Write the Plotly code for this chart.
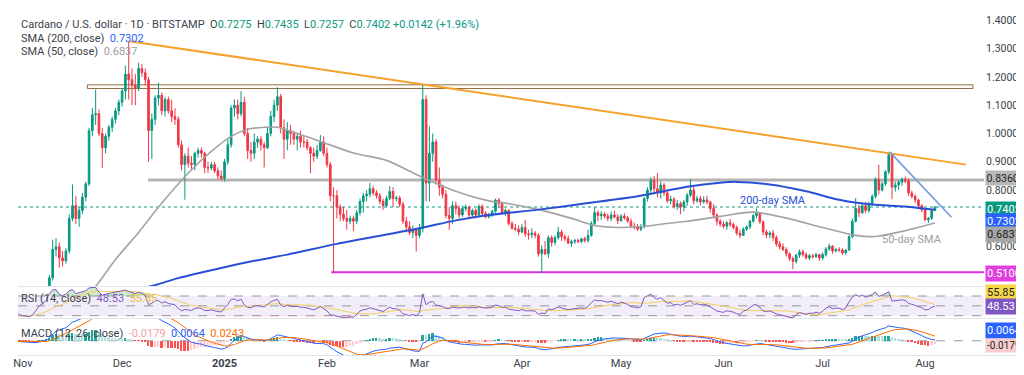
import numpy as np
import pandas as pd
import plotly.graph_objects as go

# ---------------- data (daily ADA/USD, Bitstamp) ----------------
start_date = "2024-10-01"

opens = [
    # Oct 2024
    0.380, 0.365, 0.345, 0.338, 0.352, 0.350, 0.356, 0.352, 0.348, 0.337, 0.338, 0.351, 0.356, 0.354, 0.372, 0.366,
    0.364, 0.357, 0.364, 0.358, 0.364, 0.355, 0.350, 0.340, 0.345, 0.332, 0.340, 0.350, 0.356, 0.366, 0.350,
    # Nov
    0.330, 0.322, 0.320, 0.312, 0.320, 0.336, 0.362, 0.378, 0.400, 0.490, 0.590, 0.600, 0.560, 0.550, 0.585,
    0.700, 0.745, 0.700, 0.728, 0.775, 0.822, 1.010, 1.066, 1.070, 1.000, 0.950, 0.990, 1.022, 1.050, 1.080,
    # Dec
    1.110, 1.150, 1.210, 1.190, 1.170, 1.160, 1.230, 1.215, 1.190, 1.010, 1.050, 1.125, 1.135, 1.080, 1.120,
    1.080, 1.060, 1.050, 0.960, 0.890, 0.920, 0.895, 0.890, 0.930, 0.940, 0.930, 0.880, 0.878, 0.890, 0.868, 0.850,
    # Jan 2025
    0.840, 0.900, 0.960, 1.090, 1.100, 1.070, 1.110, 1.000, 0.940, 0.930, 0.970, 0.980, 0.960, 0.950, 1.000,
    1.060, 1.100, 1.130, 1.020, 0.980, 1.010, 1.000, 0.980, 0.990, 0.970, 0.970, 0.950, 0.930, 0.920, 0.940, 0.970,
    # Feb
    0.930, 0.890, 0.780, 0.780, 0.740, 0.715, 0.700, 0.690, 0.700, 0.690, 0.720, 0.760, 0.780, 0.785,
    0.805, 0.790, 0.780, 0.760, 0.745, 0.770, 0.795, 0.770, 0.772, 0.750, 0.690, 0.670, 0.650, 0.660,
    # Mar
    0.640, 0.665, 1.120, 0.825, 0.930, 0.970, 0.835, 0.810, 0.785, 0.710, 0.700, 0.745, 0.735, 0.712, 0.735,
    0.740, 0.712, 0.728, 0.712, 0.742, 0.718, 0.705, 0.712, 0.725, 0.765, 0.752, 0.722, 0.728, 0.682, 0.665, 0.662,
    # Apr
    0.652, 0.668, 0.645, 0.642, 0.648, 0.640, 0.575, 0.590, 0.575, 0.632, 0.615, 0.632, 0.652, 0.635, 0.628,
    0.612, 0.618, 0.622, 0.618, 0.628, 0.622, 0.640, 0.682, 0.720, 0.710, 0.715, 0.708, 0.700, 0.712, 0.705,
    # May
    0.692, 0.708, 0.702, 0.690, 0.672, 0.670, 0.662, 0.670, 0.770, 0.800, 0.835, 0.805, 0.790, 0.818, 0.790,
    0.762, 0.768, 0.742, 0.752, 0.740, 0.758, 0.782, 0.800, 0.762, 0.770, 0.758, 0.765, 0.758, 0.735, 0.712, 0.690,
    # Jun
    0.680, 0.672, 0.685, 0.678, 0.668, 0.648, 0.640, 0.662, 0.670, 0.690, 0.710, 0.718, 0.688, 0.652, 0.642,
    0.648, 0.632, 0.610, 0.600, 0.590, 0.575, 0.558, 0.548, 0.570, 0.582, 0.572, 0.560, 0.568, 0.565, 0.572,
    # Jul
    0.560, 0.572, 0.592, 0.602, 0.585, 0.590, 0.588, 0.578, 0.588, 0.635, 0.690, 0.735, 0.720, 0.745, 0.728,
    0.752, 0.778, 0.838, 0.800, 0.822, 0.865, 0.925, 0.810, 0.818, 0.828, 0.838, 0.832, 0.790, 0.778, 0.765, 0.745,
    # Aug
    0.730, 0.695, 0.700, 0.7275,
]
highs = [
    0.383, 0.370, 0.350, 0.355, 0.356, 0.360, 0.366, 0.356, 0.352, 0.343, 0.354, 0.359, 0.358, 0.378, 0.380, 0.372,
    0.367, 0.368, 0.366, 0.368, 0.367, 0.358, 0.352, 0.350, 0.348, 0.342, 0.352, 0.358, 0.370, 0.368, 0.352,
    0.335, 0.328, 0.322, 0.325, 0.340, 0.368, 0.385, 0.405, 0.500, 0.625, 0.630, 0.615, 0.585, 0.595, 0.715,
    0.820, 0.780, 0.740, 0.790, 0.830, 1.020, 1.090, 1.155, 1.085, 1.020, 1.000, 1.030, 1.060, 1.090, 1.120,
    1.160, 1.240, 1.326, 1.230, 1.210, 1.250, 1.245, 1.230, 1.200, 1.070, 1.135, 1.180, 1.145, 1.130, 1.130,
    1.120, 1.090, 1.060, 0.975, 0.930, 0.950, 0.920, 0.935, 0.950, 0.950, 0.935, 0.900, 0.900, 0.900, 0.880, 0.870,
    0.910, 0.980, 1.100, 1.120, 1.120, 1.150, 1.130, 1.020, 0.970, 1.000, 0.990, 0.990, 0.970, 1.020, 1.080,
    1.120, 1.163, 1.140, 1.050, 1.040, 1.030, 1.010, 1.000, 1.010, 0.990, 0.980, 0.955, 0.950, 0.960, 0.995, 0.990,
    0.950, 0.900, 0.810, 0.800, 0.750, 0.740, 0.730, 0.710, 0.710, 0.730, 0.770, 0.790, 0.800, 0.825,
    0.815, 0.800, 0.790, 0.770, 0.780, 0.815, 0.810, 0.780, 0.780, 0.760, 0.705, 0.690, 0.675, 0.665,
    0.680, 1.172, 1.135, 1.025, 1.000, 0.980, 0.880, 0.820, 0.800, 0.740, 0.760, 0.760, 0.745, 0.745, 0.750,
    0.745, 0.735, 0.735, 0.750, 0.750, 0.725, 0.720, 0.730, 0.770, 0.772, 0.760, 0.735, 0.732, 0.690, 0.680, 0.675,
    0.680, 0.695, 0.660, 0.665, 0.655, 0.648, 0.605, 0.620, 0.640, 0.640, 0.640, 0.670, 0.660, 0.645, 0.640,
    0.625, 0.628, 0.628, 0.632, 0.635, 0.660, 0.690, 0.740, 0.728, 0.725, 0.722, 0.718, 0.725, 0.728, 0.715,
    0.715, 0.718, 0.708, 0.700, 0.685, 0.680, 0.680, 0.775, 0.810, 0.845, 0.850, 0.860, 0.830, 0.825, 0.795,
    0.780, 0.775, 0.765, 0.760, 0.765, 0.790, 0.838, 0.815, 0.780, 0.780, 0.778, 0.780, 0.762, 0.750, 0.718, 0.698,
    0.690, 0.690, 0.698, 0.685, 0.675, 0.660, 0.668, 0.675, 0.695, 0.715, 0.735, 0.722, 0.692, 0.660, 0.655,
    0.660, 0.640, 0.620, 0.612, 0.598, 0.580, 0.565, 0.575, 0.590, 0.590, 0.580, 0.575, 0.575, 0.578, 0.575,
    0.580, 0.598, 0.610, 0.605, 0.595, 0.598, 0.595, 0.592, 0.640, 0.700, 0.772, 0.748, 0.755, 0.758, 0.760,
    0.785, 0.845, 0.890, 0.830, 0.870, 0.935, 0.930, 0.830, 0.835, 0.845, 0.848, 0.842, 0.798, 0.785, 0.770, 0.750,
    0.735, 0.705, 0.730, 0.7435,
]
lows = [
    0.358, 0.340, 0.333, 0.336, 0.347, 0.348, 0.350, 0.344, 0.335, 0.330, 0.336, 0.349, 0.348, 0.352, 0.360, 0.360,
    0.352, 0.355, 0.355, 0.356, 0.350, 0.345, 0.334, 0.338, 0.322, 0.330, 0.338, 0.343, 0.352, 0.348, 0.326,
    0.318, 0.316, 0.305, 0.308, 0.318, 0.334, 0.358, 0.372, 0.398, 0.480, 0.565, 0.525, 0.530, 0.540, 0.575,
    0.690, 0.680, 0.670, 0.715, 0.760, 0.815, 0.990, 1.030, 0.990, 0.878, 0.930, 0.975, 1.005, 1.035, 1.065,
    1.095, 1.120, 1.120, 1.100, 1.100, 1.150, 1.200, 1.170, 0.900, 0.910, 1.030, 1.100, 1.065, 1.060, 1.070,
    1.040, 1.030, 0.950, 0.870, 0.766, 0.880, 0.870, 0.870, 0.915, 0.915, 0.860, 0.860, 0.870, 0.860, 0.838, 0.835,
    0.830, 0.890, 0.950, 1.060, 1.050, 1.060, 0.990, 0.910, 0.900, 0.910, 0.950, 0.940, 0.880, 0.945, 0.990,
    1.040, 1.080, 1.000, 0.910, 0.940, 0.960, 0.960, 0.940, 0.950, 0.950, 0.940, 0.860, 0.900, 0.910, 0.935, 0.920,
    0.880, 0.760, 0.510, 0.700, 0.690, 0.690, 0.660, 0.680, 0.655, 0.680, 0.710, 0.720, 0.760, 0.775,
    0.780, 0.770, 0.750, 0.730, 0.740, 0.765, 0.740, 0.760, 0.740, 0.680, 0.650, 0.640, 0.630, 0.583,
    0.630, 0.650, 0.760, 0.760, 0.900, 0.820, 0.780, 0.770, 0.700, 0.660, 0.680, 0.715, 0.700, 0.705, 0.725,
    0.700, 0.705, 0.700, 0.705, 0.710, 0.700, 0.700, 0.705, 0.720, 0.740, 0.715, 0.710, 0.675, 0.660, 0.655, 0.640,
    0.648, 0.635, 0.625, 0.630, 0.630, 0.565, 0.507, 0.570, 0.560, 0.600, 0.605, 0.625, 0.620, 0.620, 0.610,
    0.600, 0.610, 0.612, 0.612, 0.615, 0.615, 0.635, 0.675, 0.690, 0.695, 0.700, 0.690, 0.690, 0.700, 0.680,
    0.688, 0.695, 0.685, 0.665, 0.660, 0.655, 0.655, 0.665, 0.760, 0.790, 0.790, 0.775, 0.770, 0.780, 0.755,
    0.750, 0.735, 0.730, 0.715, 0.725, 0.745, 0.775, 0.750, 0.755, 0.745, 0.752, 0.750, 0.720, 0.700, 0.675, 0.670,
    0.665, 0.660, 0.670, 0.660, 0.640, 0.630, 0.638, 0.655, 0.662, 0.685, 0.700, 0.680, 0.640, 0.630, 0.630,
    0.620, 0.600, 0.590, 0.585, 0.565, 0.550, 0.520, 0.540, 0.560, 0.565, 0.555, 0.552, 0.558, 0.560, 0.550,
    0.552, 0.565, 0.585, 0.575, 0.580, 0.582, 0.570, 0.572, 0.585, 0.630, 0.685, 0.705, 0.715, 0.718, 0.720,
    0.745, 0.770, 0.785, 0.795, 0.815, 0.855, 0.768, 0.795, 0.800, 0.815, 0.825, 0.780, 0.770, 0.755, 0.740, 0.722,
    0.690, 0.684, 0.695, 0.7257,
]
closes = [
    0.365, 0.345, 0.338, 0.352, 0.350, 0.356, 0.352, 0.348, 0.337, 0.338, 0.351, 0.356, 0.354, 0.372, 0.366, 0.364,
    0.357, 0.364, 0.358, 0.364, 0.355, 0.350, 0.340, 0.345, 0.332, 0.340, 0.350, 0.356, 0.366, 0.350, 0.330,
    0.322, 0.320, 0.312, 0.320, 0.336, 0.362, 0.378, 0.400, 0.490, 0.590, 0.600, 0.560, 0.550, 0.585, 0.700,
    0.745, 0.700, 0.728, 0.775, 0.822, 1.010, 1.066, 1.070, 1.000, 0.950, 0.990, 1.022, 1.050, 1.080, 1.110,
    1.150, 1.210, 1.190, 1.170, 1.160, 1.230, 1.215, 1.190, 1.010, 1.050, 1.125, 1.135, 1.080, 1.120, 1.080,
    1.060, 1.050, 0.960, 0.890, 0.920, 0.895, 0.890, 0.930, 0.940, 0.930, 0.880, 0.878, 0.890, 0.868, 0.850, 0.840,
    0.900, 0.960, 1.090, 1.100, 1.070, 1.110, 1.000, 0.940, 0.930, 0.970, 0.980, 0.960, 0.950, 1.000, 1.060,
    1.100, 1.130, 1.020, 0.980, 1.010, 1.000, 0.980, 0.990, 0.970, 0.970, 0.950, 0.930, 0.920, 0.940, 0.970, 0.930,
    0.890, 0.780, 0.780, 0.740, 0.715, 0.700, 0.690, 0.700, 0.690, 0.720, 0.760, 0.780, 0.785, 0.805,
    0.790, 0.780, 0.760, 0.745, 0.770, 0.795, 0.770, 0.772, 0.750, 0.690, 0.670, 0.650, 0.660, 0.640,
    0.665, 1.120, 0.825, 0.930, 0.970, 0.835, 0.810, 0.785, 0.710, 0.700, 0.745, 0.735, 0.712, 0.735, 0.740,
    0.712, 0.728, 0.712, 0.742, 0.718, 0.705, 0.712, 0.725, 0.765, 0.752, 0.722, 0.728, 0.682, 0.665, 0.662, 0.652,
    0.668, 0.645, 0.642, 0.648, 0.640, 0.575, 0.590, 0.575, 0.632, 0.615, 0.632, 0.652, 0.635, 0.628, 0.612,
    0.618, 0.622, 0.618, 0.628, 0.622, 0.640, 0.682, 0.720, 0.710, 0.715, 0.708, 0.700, 0.712, 0.705, 0.692,
    0.708, 0.702, 0.690, 0.672, 0.670, 0.662, 0.670, 0.770, 0.800, 0.835, 0.805, 0.790, 0.818, 0.790, 0.762,
    0.768, 0.742, 0.752, 0.740, 0.758, 0.782, 0.800, 0.762, 0.770, 0.758, 0.765, 0.758, 0.735, 0.712, 0.690, 0.680,
    0.672, 0.685, 0.678, 0.668, 0.648, 0.640, 0.662, 0.670, 0.690, 0.710, 0.718, 0.688, 0.652, 0.642, 0.648,
    0.632, 0.610, 0.600, 0.590, 0.575, 0.558, 0.548, 0.570, 0.582, 0.572, 0.560, 0.568, 0.565, 0.572, 0.560,
    0.572, 0.592, 0.602, 0.585, 0.590, 0.588, 0.578, 0.588, 0.635, 0.690, 0.735, 0.720, 0.745, 0.728, 0.752,
    0.778, 0.838, 0.800, 0.822, 0.865, 0.925, 0.810, 0.818, 0.828, 0.838, 0.832, 0.790, 0.778, 0.765, 0.745, 0.730,
    0.695, 0.700, 0.7275, 0.7402,
]

# SMA values (sample points along each line)
sma50_dates = ["2024-11-21", "2024-11-23", "2024-11-29", "2024-12-06", "2024-12-11", "2024-12-16", "2024-12-22",
               "2024-12-28", "2025-01-03", "2025-01-08", "2025-01-13", "2025-01-17", "2025-01-21", "2025-01-30",
               "2025-02-09", "2025-02-19", "2025-03-01", "2025-03-12", "2025-03-22", "2025-03-27", "2025-04-06",
               "2025-04-16", "2025-04-23", "2025-05-01", "2025-05-08", "2025-05-16", "2025-05-21", "2025-05-31",
               "2025-06-10", "2025-06-20", "2025-07-01", "2025-07-11", "2025-07-17", "2025-07-25", "2025-08-04"]
sma50_vals = [0.440, 0.460, 0.555, 0.650, 0.725, 0.795, 0.872, 0.937, 0.990, 1.015, 1.022, 1.022, 1.008, 0.972,
              0.931, 0.905, 0.850, 0.796, 0.762, 0.754, 0.731, 0.700, 0.675, 0.668, 0.672, 0.684, 0.690, 0.707,
              0.722, 0.701, 0.668, 0.640, 0.636, 0.654, 0.6837]
sma200_dates = ["2024-12-01", "2024-12-10", "2024-12-18", "2024-12-31", "2025-01-10", "2025-01-20", "2025-02-04",
                "2025-02-19", "2025-03-01", "2025-03-12", "2025-03-22", "2025-04-06", "2025-04-21", "2025-05-06",
                "2025-05-21", "2025-05-31", "2025-06-05", "2025-06-15", "2025-06-26", "2025-07-06", "2025-07-16",
                "2025-07-26", "2025-08-04"]
sma200_vals = [0.440, 0.461, 0.489, 0.525, 0.550, 0.572, 0.610, 0.643, 0.665, 0.693, 0.712, 0.731, 0.754, 0.778,
               0.812, 0.826, 0.829, 0.820, 0.796, 0.766, 0.749, 0.742, 0.7302]

# drawn levels / trend lines
resist_zone = [1.159, 1.172]
level_gray = 0.8360
level_magenta = 0.5100
orange_line = (["2024-12-03 07:00", "2025-08-13 09:00"], [1.326, 0.890])
blue_line = (["2025-07-21 07:00", "2025-08-09 00:00"], [0.935, 0.704])

month_ticks = ["2024-11-01", "2024-12-01", "2025-01-01", "2025-02-01", "2025-03-01", "2025-04-01",
               "2025-05-01", "2025-06-01", "2025-07-01", "2025-08-01"]
month_text = ["Nov", "Dec", "<b>2025</b>", "Feb", "Mar", "Apr", "May", "Jun", "Jul", "Aug"]
price_ticks = [0.6, 0.8, 0.9, 1.0, 1.1, 1.2, 1.3, 1.4]

last_rsi, last_rsi_ma = "48.53", "55.85"
last_macd, last_signal, last_hist = "0.0064", "0.0243", "-0.0179"

assert len(opens) == len(highs) == len(lows) == len(closes), (len(opens), len(highs), len(lows), len(closes))

dates = pd.date_range(start_date, periods=len(closes), freq="D")

# ---------------- indicators ----------------
c = pd.Series(closes, index=dates)
delta = c.diff()
gain = delta.clip(lower=0)
loss = -delta.clip(upper=0)
ag = gain.ewm(alpha=1 / 14, adjust=False).mean()
al = loss.ewm(alpha=1 / 14, adjust=False).mean()
rsi = 100 - 100 / (1 + ag / al)
rsi_ma = rsi.rolling(14).mean()
ema12 = c.ewm(span=12, adjust=False).mean()
ema26 = c.ewm(span=26, adjust=False).mean()
macd = ema12 - ema26
signal = macd.ewm(span=9, adjust=False).mean()
hist = macd - signal
hcol = []
prev = 0.0
for h in hist.values:
    if h >= 0:
        hcol.append("#26a69a" if h >= prev else "#b2dfdb")
    else:
        hcol.append("#ff5252" if h < prev else "#ffcdd2")
    prev = h

# ---------------- layout helpers (pixel based) ----------------
W, H = 1024, 375
ML, MR, MT, MB = 10, 48, 4, 28
PH = H - MT - MB


def py(px):
    return (H - MB - px) / PH


GREEN, RED = "#089981", "#f23645"
FONT = "Roboto, Arial, sans-serif"
TXT = "#3b3f4a"

fig = go.Figure()

fig.add_trace(go.Candlestick(
    x=dates, open=opens, high=highs, low=lows, close=closes,
    increasing=dict(line=dict(color=GREEN, width=1), fillcolor=GREEN),
    decreasing=dict(line=dict(color=RED, width=1), fillcolor=RED),
    whiskerwidth=0, xaxis="x", yaxis="y", hoverinfo="skip", showlegend=False))

fig.add_trace(go.Scatter(x=pd.to_datetime(sma50_dates), y=sma50_vals, mode="lines",
                         line=dict(color="#a3a3a3", width=1.6, shape="spline", smoothing=0.8),
                         xaxis="x", yaxis="y", hoverinfo="skip", showlegend=False))
fig.add_trace(go.Scatter(x=pd.to_datetime(sma200_dates), y=sma200_vals, mode="lines",
                         line=dict(color="#2a4fd6", width=2, shape="spline", smoothing=0.8),
                         xaxis="x", yaxis="y", hoverinfo="skip", showlegend=False))
fig.add_trace(go.Scatter(x=pd.to_datetime(orange_line[0]), y=orange_line[1], mode="lines",
                         line=dict(color="#f5a12a", width=2), xaxis="x", yaxis="y",
                         hoverinfo="skip", showlegend=False))
fig.add_trace(go.Scatter(x=pd.to_datetime(blue_line[0]), y=blue_line[1], mode="lines",
                         line=dict(color="#6f9be3", width=1.6), xaxis="x", yaxis="y",
                         hoverinfo="skip", showlegend=False))

# RSI pane
fig.add_trace(go.Scatter(x=dates, y=[70] * len(dates), mode="lines", line=dict(width=0),
                         xaxis="x", yaxis="y2", hoverinfo="skip", showlegend=False))
fig.add_trace(go.Scatter(x=dates, y=np.maximum(rsi.values, 70), mode="lines", line=dict(width=0),
                         fill="tonexty", fillcolor="rgba(76,175,80,0.28)",
                         xaxis="x", yaxis="y2", hoverinfo="skip", showlegend=False))
fig.add_trace(go.Scatter(x=dates, y=[30] * len(dates), mode="lines", line=dict(width=0),
                         xaxis="x", yaxis="y2", hoverinfo="skip", showlegend=False))
fig.add_trace(go.Scatter(x=dates, y=np.minimum(rsi.values, 30), mode="lines", line=dict(width=0),
                         fill="tonexty", fillcolor="rgba(242,54,69,0.25)",
                         xaxis="x", yaxis="y2", hoverinfo="skip", showlegend=False))
fig.add_trace(go.Scatter(x=dates, y=rsi_ma, mode="lines", line=dict(color="#f5cf5a", width=1),
                         xaxis="x", yaxis="y2", hoverinfo="skip", showlegend=False))
fig.add_trace(go.Scatter(x=dates, y=rsi, mode="lines", line=dict(color="#7e57c2", width=1),
                         xaxis="x", yaxis="y2", hoverinfo="skip", showlegend=False))

# MACD pane
fig.add_trace(go.Bar(x=dates, y=hist, marker=dict(color=hcol, line=dict(width=0)),
                     width=0.55 * 86400000, xaxis="x", yaxis="y3", hoverinfo="skip", showlegend=False))
fig.add_trace(go.Scatter(x=dates, y=macd, mode="lines", line=dict(color="#2962ff", width=1),
                         xaxis="x", yaxis="y3", hoverinfo="skip", showlegend=False))
fig.add_trace(go.Scatter(x=dates, y=signal, mode="lines", line=dict(color="#ff6d00", width=1),
                         xaxis="x", yaxis="y3", hoverinfo="skip", showlegend=False))

x_end = "2025-08-18 20:00"
shapes = [
    # resistance zone
    dict(type="rect", xref="x", yref="y", x0="2024-11-20 12:00", x1="2025-08-15 12:00",
         y0=resist_zone[0], y1=resist_zone[1], line=dict(color="#8f7048", width=1),
         fillcolor="rgba(255,250,235,0.6)", layer="below"),
    dict(type="line", xref="x", yref="y", x0="2024-12-08 20:00", x1=x_end, y0=level_gray, y1=level_gray,
         line=dict(color="#b4b4b4", width=3), layer="below"),
    dict(type="line", xref="x", yref="y", x0="2025-02-02 07:00", x1=x_end, y0=level_magenta, y1=level_magenta,
         line=dict(color="#dd2fdd", width=2), layer="below"),
    dict(type="line", xref="paper", yref="y", x0=0, x1=1, y0=closes[-1], y1=closes[-1],
         line=dict(color=GREEN, width=1, dash="dot"), layer="below"),
    # RSI band
    dict(type="rect", xref="paper", yref="y2", x0=0, x1=1, y0=30, y1=70,
         fillcolor="rgba(126,87,194,0.10)", line=dict(width=0), layer="below"),
]
for lvl in (70, 50, 30):
    shapes.append(dict(type="line", xref="paper", yref="y2", x0=0, x1=0.997, y0=lvl, y1=lvl,
                       line=dict(color="#9598a1", width=1, dash="dash"), layer="below"))
shapes.append(dict(type="line", xref="paper", yref="y3", x0=0, x1=0.997, y0=0, y1=0,
                   line=dict(color="#9598a1", width=1, dash="dash"), layer="below"))
# pane separators
for ypx in (278.5, 310.5, 347.5):
    shapes.append(dict(type="line", xref="paper", yref="paper", x0=0, x1=1.0 + MR / (W - ML - MR),
                       y0=py(ypx), y1=py(ypx), line=dict(color="#e0e3eb", width=1)))

annotations = []


def box(text, ypx, bg, fg="white", size=11, pad=1):
    annotations.append(dict(xref="paper", yref="paper", x=1, y=py(ypx), xanchor="left", yanchor="middle",
                            xshift=1, text=text, showarrow=False, bgcolor=bg, borderpad=pad,
                            font=dict(family=FONT, size=size, color=fg)))


box(f"{level_gray:.4f}", 170.0, "#b8b8b8", "#1e1e1e", size=10.5, pad=0.5)
box(f"{closes[-1]:.4f}", 201, GREEN)
box(f"{sma200_vals[-1]:.4f}", 213.5, "#2962ff")
box(f"{sma50_vals[-1]:.4f}", 226.5, "#a6a6a6", "#1e1e1e")
box(f"{level_magenta:.4f}", 265, "#e040e0")
box(last_rsi_ma, 284.7, "#f7d84a", "#1e1e1e")
box(last_rsi, 298, "#7e57c2")
box(last_macd, 322.5, "#2962ff")
box(last_hist, 337, "#f9cdd0", "#1e1e1e", size=10)


def ltext(text, ypx, xpx=11, size=11):
    annotations.append(dict(xref="paper", yref="paper", x=(xpx - ML) / (W - ML - MR), y=py(ypx),
                            xanchor="left", yanchor="middle", text=text, showarrow=False,
                            font=dict(family=FONT, size=size, color=TXT)))


g = lambda s: f"<span style='color:{GREEN}'>{s}</span>"
ltext("Cardano / U.S. dollar · 1D · BITSTAMP  O" + g(f"{opens[-1]:.4f}") + "  H" + g(f"{highs[-1]:.4f}")
      + "  L" + g(f"{lows[-1]:.4f}") + "  C" + g(f"{closes[-1]:.4f}") + " " + g("+0.0142 (+1.96%)"), 16.5)
ltext("SMA (200, close)  <span style='color:#2962ff'>" + f"{sma200_vals[-1]:.4f}" + "</span>", 30.5)
ltext("SMA (50, close)  <span style='color:#9e9e9e'>" + f"{sma50_vals[-1]:.4f}" + "</span>", 43.5)
ltext("RSI (14, close)  <span style='color:#7e57c2'>" + last_rsi + "</span>  <span style='color:#e8c040'>"
      + last_rsi_ma + "</span>", 290.5)
ltext("MACD (12, 26, close)  <span style='color:#f4a0a8'>" + last_hist + "</span>  <span style='color:#2962ff'>"
      + last_macd + "</span>  <span style='color:#ff6d00'>" + last_signal + "</span>", 325)

annotations.append(dict(xref="x", yref="y", x="2025-06-16", y=0.7615, text="200-day SMA", showarrow=False,
                        font=dict(family=FONT, size=11, color="#2a4fd6")))
annotations.append(dict(xref="x", yref="y", x="2025-07-28", y=0.6237, text="50-day SMA", showarrow=False,
                        font=dict(family=FONT, size=11, color="#9e9e9e")))

fig.update_layout(
    width=W, height=H, margin=dict(l=ML, r=MR, t=MT, b=MB),
    paper_bgcolor="white", plot_bgcolor="white", showlegend=False, bargap=0,
    font=dict(family=FONT, size=11, color=TXT),
    xaxis=dict(anchor="y3", range=["2024-10-30 12:00", x_end], showgrid=False, zeroline=False,
               rangeslider=dict(visible=False), tickvals=pd.to_datetime(month_ticks), ticktext=month_text,
               ticks="", showline=False, tickfont=dict(family=FONT, size=11, color=TXT)),
    yaxis=dict(domain=[py(278), 1], range=[0.4611, 1.4293], side="right", anchor="x",
               tickvals=price_ticks, tickformat=".4f", showgrid=False, zeroline=False, ticks="",
               ticklabelstandoff=1, tickfont=dict(family=FONT, size=10.5, color=TXT)),
    yaxis2=dict(domain=[py(310), py(279)], range=[25.3, 88.3], side="right", anchor="x",
                showticklabels=False, showgrid=False, zeroline=False, ticks=""),
    yaxis3=dict(domain=[0, py(311)], range=[-0.064, 0.098], side="right", anchor="x",
                showticklabels=False, showgrid=False, zeroline=False, ticks=""),
    shapes=shapes, annotations=annotations,
)

fig.write_html("out.html")
